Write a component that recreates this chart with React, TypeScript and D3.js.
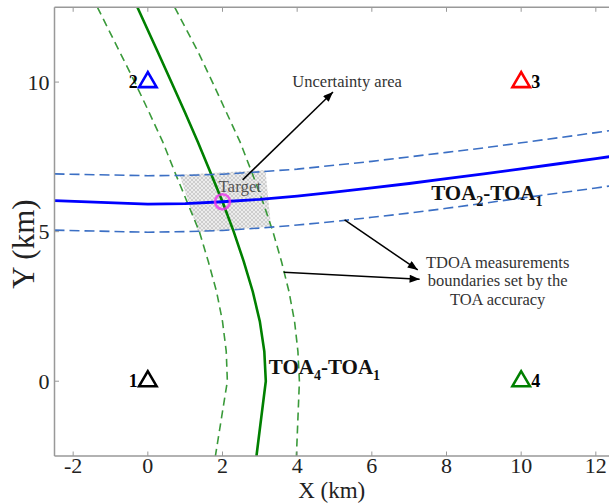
import React from "react";
import * as d3 from "d3";

const width = 609;
const height = 504;

// axes
const xDomain = [-2.5, 12.5];
const yDomain = [-2.5, 12.5];
const xTicks = [-2, 0, 2, 4, 6, 8, 10, 12];
const yTicks = [0, 5, 10];

// stations (km)
const stationNames = ["1", "2", "3", "4"];
const stationX = [0, 0, 10, 10];
const stationY = [0, 10, 10, 0];
const stationColors = ["#000000", "#0000ff", "#ff0000", "#008000"];

// target
const targetX = 2;
const targetY = 6;

// TOA4-TOA1 curve and its boundaries, sampled along y
const toa41Y = [12.5, 11, 10, 9, 8, 7, 6, 5, 4, 3, 2, 1, 0, -2.5];
const toa41X = [-0.28, 0.27, 0.63, 0.99, 1.34, 1.67, 2.0, 2.3, 2.57, 2.81, 3.0, 3.12, 3.16, 2.91];
const toa41LowX = [-1.35, -0.75, -0.35, 0.03, 0.4, 0.72, 1.05, 1.38, 1.62, 1.84, 2.0, 2.1, 2.13, 1.81];
const toa41HighX = [0.72, 1.35, 1.73, 2.1, 2.47, 2.78, 3.08, 3.35, 3.58, 3.78, 3.93, 4.02, 4.06, 3.98];

// TOA2-TOA1 curve and its boundaries, sampled along x
const toa21X = [-2.5, 0, 1, 2, 3, 4, 5, 6, 7, 8, 9, 10, 11, 12, 12.5];
const toa21Y = [6.04, 5.92, 5.94, 6.0, 6.08, 6.19, 6.32, 6.46, 6.61, 6.77, 6.93, 7.1, 7.27, 7.44, 7.53];
const toa21HighY = [6.93, 6.87, 6.88, 6.92, 7.0, 7.09, 7.22, 7.35, 7.5, 7.65, 7.8, 7.97, 8.14, 8.31, 8.4];
const toa21LowY = [5.05, 4.98, 5.0, 5.04, 5.12, 5.22, 5.34, 5.48, 5.62, 5.78, 5.95, 6.12, 6.29, 6.46, 6.55];

// uncertainty area corners
const areaX = [0.85, 3.15, 3.3, 1.35];
const areaY = [6.9, 7.06, 5.17, 4.98];

// annotations
const uncertaintyText = "Uncertainty area";
const uncertaintyArrow = [[2.54, 6.73], [4.96, 9.67]];
const tdoaLines = ["TDOA measurements", "boundaries set by the", "TOA accuracy"];
const tdoaArrows = [
  [[5.27, 5.39], [7.23, 3.72]],
  [[3.64, 3.64], [7.28, 3.41]],
];

const serif = "'Liberation Serif', 'Times New Roman', serif";

export default function App() {
  const x = d3.scaleLinear().domain(xDomain).range([54.5, 614.5]);
  const y = d3.scaleLinear().domain(yDomain).range([456, 7.3]);
  const [x0, x1] = x.range();
  const [y0, y1] = y.range();

  const lineV = d3
    .line<number>()
    .x((d) => x(d))
    .y((d, i) => y(toa41Y[i]));
  const lineH = d3
    .line<number>()
    .x((d, i) => x(toa21X[i]))
    .y((d) => y(d));

  const areaPts = areaX.map((d, i) => `${x(d)},${y(areaY[i])}`).join(" ");

  const tri = (cx: number, cy: number) =>
    `M${cx},${cy - 10}L${cx - 8.75},${cy + 5}L${cx + 8.75},${cy + 5}Z`;

  return (
    <svg
      width={width}
      height={height}
      style={{ position: "absolute", left: 0, top: 0, background: "#fff" }}
    >
      <defs>
        <clipPath id="plot">
          <rect x={x0} y={y1} width={x1 - x0} height={y0 - y1} />
        </clipPath>
        <pattern id="hatch" width="4" height="4" patternUnits="userSpaceOnUse">
          <rect width="4" height="4" fill="#ececec" />
          <path d="M0,0L4,4M4,0L0,4" stroke="#b8b8b8" strokeWidth="0.6" />
        </pattern>
        <marker
          id="head"
          viewBox="0 0 10 8"
          refX="10"
          refY="4"
          markerWidth="11"
          markerHeight="8"
          markerUnits="userSpaceOnUse"
          orient="auto"
        >
          <path d="M0,0L10,4L0,8Z" fill="#000" />
        </marker>
      </defs>

      <g clipPath="url(#plot)">
        <polygon points={areaPts} fill="url(#hatch)" />
        <path d={lineV(toa41LowX) ?? ""} fill="none" stroke="#3a9a3a" strokeWidth={1.6} strokeDasharray="8,5" />
        <path d={lineV(toa41HighX) ?? ""} fill="none" stroke="#3a9a3a" strokeWidth={1.6} strokeDasharray="8,5" />
        <path d={lineV(toa41X) ?? ""} fill="none" stroke="#008000" strokeWidth={2.6} />
        <path d={lineH(toa21HighY) ?? ""} fill="none" stroke="#3b6fc4" strokeWidth={1.6} strokeDasharray="10,5" />
        <path d={lineH(toa21LowY) ?? ""} fill="none" stroke="#3b6fc4" strokeWidth={1.6} strokeDasharray="10,5" />
        <path d={lineH(toa21Y) ?? ""} fill="none" stroke="#0000ff" strokeWidth={2.8} />

        <circle cx={x(targetX)} cy={y(targetY)} r={7.5} fill="none" stroke="#ee33ee" strokeOpacity={0.8} strokeWidth={2.6} />
        <text x={x(1.89)} y={y(6.34)} fontFamily={serif} fontSize={17} fill="#555">
          Target
        </text>

        {stationNames.map((name, i) => (
          <g key={name}>
            <path
              d={tri(x(stationX[i]), y(stationY[i]))}
              fill="none"
              stroke={stationColors[i]}
              strokeWidth={2.6}
              strokeLinejoin="miter"
            />
            <text
              x={stationX[i] < 5 ? x(stationX[i]) - 10 : x(stationX[i]) + 10}
              y={y(stationY[i]) + 6}
              textAnchor={stationX[i] < 5 ? "end" : "start"}
              fontFamily={serif}
              fontWeight="bold"
              fontSize={18}
            >
              {name}
            </text>
          </g>
        ))}

        <text x={x(7.59)} y={y(6.06)} fontFamily={serif} fontWeight="bold" fontSize={21} fill="#111">
          TOA<tspan dy={6} fontSize={14}>2</tspan>
          <tspan dy={-6}>-TOA</tspan>
          <tspan dy={6} fontSize={14}>1</tspan>
        </text>
        <text x={x(3.24)} y={y(0.24)} fontFamily={serif} fontWeight="bold" fontSize={21} fill="#111">
          TOA<tspan dy={6} fontSize={14}>4</tspan>
          <tspan dy={-6}>-TOA</tspan>
          <tspan dy={6} fontSize={14}>1</tspan>
        </text>

        <text x={x(3.87)} y={y(9.84)} fontFamily={serif} fontSize={16.5} fill="#333">
          {uncertaintyText}
        </text>
        <line
          x1={x(uncertaintyArrow[0][0])}
          y1={y(uncertaintyArrow[0][1])}
          x2={x(uncertaintyArrow[1][0])}
          y2={y(uncertaintyArrow[1][1])}
          stroke="#000"
          strokeWidth={1.5}
          markerEnd="url(#head)"
        />
        {tdoaLines.map((t, i) => (
          <text
            key={t}
            x={x(9.37)}
            y={y(3.79) + i * 18.5}
            textAnchor="middle"
            fontFamily={serif}
            fontSize={16.5}
            fill="#333"
          >
            {t}
          </text>
        ))}
        {tdoaArrows.map((a, i) => (
          <line
            key={i}
            x1={x(a[0][0])}
            y1={y(a[0][1])}
            x2={x(a[1][0])}
            y2={y(a[1][1])}
            stroke="#000"
            strokeWidth={1.5}
            markerEnd="url(#head)"
          />
        ))}
      </g>

      {/* spines */}
      <line x1={x0} y1={y0} x2={x1} y2={y0} stroke="#999" strokeWidth={1.5} />
      <line x1={x0} y1={y1} x2={x1} y2={y1} stroke="#999" strokeWidth={1.5} />
      <line x1={x0} y1={y0} x2={x0} y2={y1} stroke="#999" strokeWidth={1.5} />

      {xTicks.map((t) => (
        <g key={`x${t}`}>
          <line x1={x(t)} x2={x(t)} y1={y0} y2={y0 - 4.5} stroke="#999" strokeWidth={1} />
          <line x1={x(t)} x2={x(t)} y1={y1} y2={y1 + 4.5} stroke="#999" strokeWidth={1} />
          <text x={x(t)} y={472.5} textAnchor="middle" fontFamily={serif} fontSize={22} fill="#222">
            {t < 0 ? `-${-t}` : t}
          </text>
        </g>
      ))}
      {yTicks.map((t) => (
        <g key={`y${t}`}>
          <line x1={x0} x2={x0 + 4.5} y1={y(t)} y2={y(t)} stroke="#999" strokeWidth={1} />
          <text x={x0 - 5} y={y(t) + 7.5} textAnchor="end" fontFamily={serif} fontSize={22} fill="#222">
            {t}
          </text>
        </g>
      ))}

      <text x={(x0 + 609) / 2} y={497.5} textAnchor="middle" fontFamily={serif} fontSize={23} fill="#222">
        X (km)
      </text>
      <text
        transform="translate(34,244) rotate(-90)"
        textAnchor="middle"
        fontFamily={serif}
        fontSize={31}
        fill="#222"
      >
        Y (km)
      </text>
    </svg>
  );
}
